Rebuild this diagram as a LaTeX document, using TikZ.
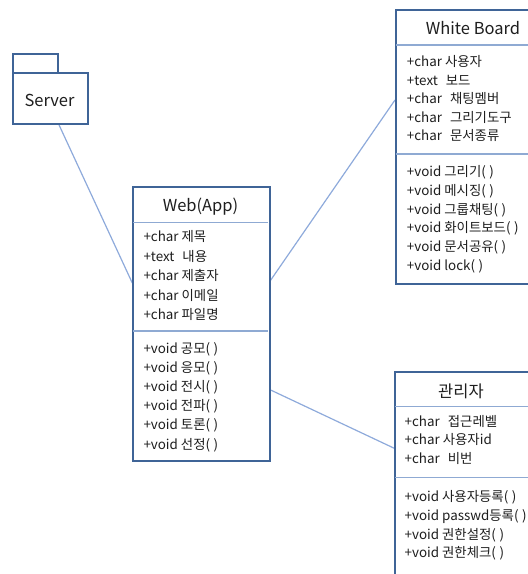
\documentclass[tikz,border=0pt]{standalone}
\usepackage{fontspec}
\setmainfont{Noto Sans CJK KR}
\definecolor{frame}{HTML}{3F6497}
\definecolor{rule}{HTML}{8FAAD3}
\definecolor{link}{HTML}{8EAADB}
\definecolor{ink}{HTML}{1E1E1E}
\newcommand{\sg}{\hspace{3pt}}
\newcommand{\bg}{\hspace{8pt}}
\newcommand{\pp}{(\hspace{3.5pt})}
\tikzset{
  classbox/.style={draw=frame, line width=1.8pt, fill=white, inner sep=0pt, anchor=north west},
  divider/.style={draw=rule, line width=1.2pt},
  conn/.style={draw=link, line width=1.2pt},
  member/.style={anchor=base west, inner sep=0pt, text=ink, font=\fontsize{13.4}{15}\selectfont},
  title/.style={anchor=center, inner sep=0pt, text=ink, font=\fontsize{16.5}{18}\selectfont},
}
\begin{document}
\begin{tikzpicture}[x=1pt, y=-1pt]
\useasboundingbox (0,0) rectangle (528,574);

% connectors (drawn first, boxes sit on top)
\coordinate (srv-out) at (58,122.7);
\coordinate (web-in) at (132.3,283);
\coordinate (web-wb) at (268.5,283.3);
\coordinate (wb-in) at (395,100);
\coordinate (web-adm) at (268.5,389);
\coordinate (adm-in) at (394.3,448.3);
\draw[conn] (srv-out) -- (web-in);
\draw[conn] (web-wb) -- (wb-in);
\draw[conn] (web-adm) -- (adm-in);

% Server package
\node[classbox, minimum width=45pt, minimum height=18.4pt] (srvtab) at (11.7,53.3) {};
\node[classbox, minimum width=75pt, minimum height=51pt] (srv) at (11.7,71.7) {};
\node[title] (srvname) at (49.5,100) {Server};

% Web(App) class
\node[classbox, minimum width=136.7pt, minimum height=274pt] (web) at (132.3,186) {};
\draw[divider] (133.2,222.7) -- (267.6,222.7);
\draw[divider] (133.2,331) -- (267.6,331);
\node[title] (webname) at (200.5,206.7) {Web(App)};
\node[member] (w1) at (143.3,241.8) {+char\sg 제목};
\node[member] (w2) at (143.3,261.3) {+text\bg 내용};
\node[member] (w3) at (143.3,280.8) {+char\sg 제출자};
\node[member] (w4) at (143.3,300.3) {+char\sg 이메일};
\node[member] (w5) at (143.3,319.8) {+char\sg 파일명};
\node[member] (w6) at (143.3,353.1) {+void\sg 공모\pp};
\node[member] (w7) at (143.3,372.3) {+void\sg 응모\pp};
\node[member] (w8) at (143.3,391.5) {+void\sg 전시\pp};
\node[member] (w9) at (143.3,410.7) {+void\sg 전파\pp};
\node[member] (w10) at (143.3,429.9) {+void\sg 토론\pp};
\node[member] (w11) at (143.3,449.1) {+void\sg 선정\pp};

% White Board class
\node[classbox, minimum width=150pt, minimum height=274pt] (wb) at (395,9.3) {};
\draw[divider] (396,45) -- (545,45);
\draw[divider] (396,154) -- (545,154);
\node[title] (wbname) at (473,28.5) {White Board};
\node[member] (b1) at (406.7,66.5) {+char\sg 사용자};
\node[member] (b2) at (406.7,85.1) {+text\bg 보드};
\node[member] (b3) at (406.7,103.7) {+char\bg 채팅멤버};
\node[member] (b4) at (406.7,122.3) {+char\bg 그리기도구};
\node[member] (b5) at (406.7,140.9) {+char\bg 문서종류};
\node[member] (b6) at (406.7,176.5) {+void\sg 그리기\pp};
\node[member] (b7) at (406.7,195.3) {+void\sg 메시징\pp};
\node[member] (b8) at (406.7,214.1) {+void\sg 그룹채팅\pp};
\node[member] (b9) at (406.7,232.9) {+void\sg 화이트보드\pp};
\node[member] (b10) at (406.7,251.7) {+void\sg 문서공유\pp};
\node[member] (b11) at (406.7,270.5) {+void\sg lock\pp};

% 관리자 class
\node[classbox, minimum width=150pt, minimum height=220pt] (adm) at (394.3,371) {};
\draw[divider] (395.2,406.7) -- (545,406.7);
\draw[divider] (395.2,477.7) -- (545,477.7);
\node[title] (admname) at (461,391.7) {관리자};
\node[member] (a1) at (404.5,426.5) {+char\bg 접근레벨};
\node[member] (a2) at (404.5,444.8) {+char\sg 사용자id};
\node[member] (a3) at (404.5,463.1) {+char\bg 비번};
\node[member] (a4) at (404.5,501.5) {+void\sg 사용자등록\pp};
\node[member] (a5) at (404.5,520.3) {+void\sg passwd등록\pp};
\node[member] (a6) at (404.5,539.1) {+void\sg 권한설정\pp};
\node[member] (a7) at (404.5,557.9) {+void\sg 권한체크\pp};
\end{tikzpicture}
\end{document}
